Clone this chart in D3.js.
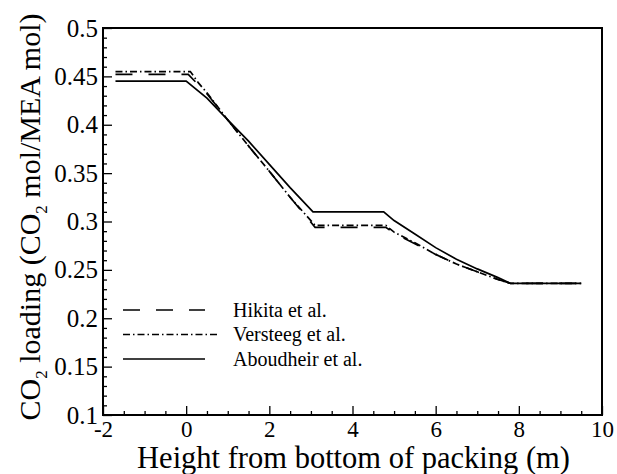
<!DOCTYPE html>
<html>
<head>
<meta charset="utf-8">
<script src="https://cdn.jsdelivr.net/npm/d3@7"></script>
</head>
<body style="margin:0; background:#fff">
<div id="chart"></div>
<script>
// Data
const hikitaX = [-1.7, 0.05, 0.3, 0.5, 1.0, 1.5, 2.0, 2.5, 3.1, 4.8, 5.0, 5.5, 6.0, 6.5, 7.0, 7.5, 7.8, 9.5];
const hikitaY = [0.452, 0.452, 0.441, 0.432, 0.405, 0.378, 0.352, 0.325, 0.294, 0.294, 0.288, 0.277, 0.266, 0.256, 0.248, 0.240, 0.236, 0.236];

const versteegX = [-1.7, 0.1, 0.3, 0.5, 1.0, 1.5, 2.0, 2.5, 3.1, 4.8, 5.0, 5.5, 6.0, 6.5, 7.0, 7.5, 7.8, 9.5];
const versteegY = [0.455, 0.455, 0.443, 0.433, 0.405, 0.378, 0.352, 0.325, 0.296, 0.296, 0.289, 0.278, 0.266, 0.256, 0.248, 0.240, 0.236, 0.236];

const aboudheirX = [-1.7, 0.0, 0.5, 1.0, 1.5, 2.0, 2.5, 3.05, 4.75, 5.0, 5.5, 6.0, 6.5, 7.0, 7.5, 7.8, 9.5];
const aboudheirY = [0.445, 0.445, 0.4275, 0.405, 0.383, 0.359, 0.335, 0.310, 0.310, 0.301, 0.287, 0.273, 0.261, 0.251, 0.242, 0.236, 0.236];

const seriesNames = ["Hikita et al.", "Versteeg et al.", "Aboudheir et al."];
const xTicks = [-2, 0, 2, 4, 6, 8, 10];
const yTicks = [0.1, 0.15, 0.2, 0.25, 0.3, 0.35, 0.4, 0.45, 0.5];

const FONT = '"Liberation Serif"';

const width = 617;
const height = 474;
const margin = { top: 28, right: 15, bottom: 59, left: 103 };

const svg = d3
  .select("#chart")
  .append("svg")
  .attr("width", width)
  .attr("height", height);

const xScale = d3.scaleLinear().domain([-2, 10]).range([margin.left, width - margin.right]);
const yScale = d3.scaleLinear().domain([0.1, 0.5]).range([height - margin.bottom, margin.top]);

// minor ticks
const xMinor = d3.range(-2, 10.001, 0.5).filter((d) => !xTicks.includes(d));
const yMinor = d3.range(10, 50.001, 1).map((d) => d / 100).filter((d) => Math.round(d * 100) % 5 !== 0);

svg
  .append("g")
  .attr("transform", `translate(0, ${height - margin.bottom})`)
  .call(d3.axisBottom(xScale).tickValues(xMinor).tickSize(-4).tickFormat(""))
  .call((g) => g.select(".domain").remove())
  .selectAll("line")
  .attr("stroke-width", 1.3);

svg
  .append("g")
  .attr("transform", `translate(${margin.left}, 0)`)
  .call(d3.axisLeft(yScale).tickValues(yMinor).tickSize(-4).tickFormat(""))
  .call((g) => g.select(".domain").remove())
  .selectAll("line")
  .attr("stroke-width", 1.3);

const xAxis = svg
  .append("g")
  .attr("transform", `translate(0, ${height - margin.bottom})`)
  .call(d3.axisBottom(xScale).tickValues(xTicks).tickSize(-9).tickPadding(6).tickFormat((d) => String(d)));
xAxis.select(".domain").remove();
xAxis.selectAll("line").attr("stroke-width", 1.3);
xAxis.selectAll("text").attr("font-family", FONT).attr("font-size", 23);

const yAxis = svg
  .append("g")
  .attr("transform", `translate(${margin.left}, 0)`)
  .call(d3.axisLeft(yScale).tickValues(yTicks).tickSize(-9).tickPadding(5).tickFormat((d) => String(+d.toFixed(2))));
yAxis.select(".domain").remove();
yAxis.selectAll("line").attr("stroke-width", 1.3);
yAxis.selectAll("text").attr("font-family", FONT).attr("font-size", 25);

// frame
svg
  .append("rect")
  .attr("x", margin.left)
  .attr("y", margin.top)
  .attr("width", width - margin.left - margin.right)
  .attr("height", height - margin.top - margin.bottom)
  .attr("fill", "none")
  .attr("stroke", "#000")
  .attr("stroke-width", 2);

// lines
const line = d3
  .line()
  .x((d) => xScale(d[0]))
  .y((d) => yScale(d[1]));

const series = [
  { name: seriesNames[0], pts: d3.zip(hikitaX, hikitaY), dash: "17,16" },
  { name: seriesNames[1], pts: d3.zip(versteegX, versteegY), dash: "7,3,1.5,3" },
  { name: seriesNames[2], pts: d3.zip(aboudheirX, aboudheirY), dash: null },
];

series.forEach((s) => {
  svg
    .append("path")
    .datum(s.pts)
    .attr("d", line)
    .attr("fill", "none")
    .attr("stroke", "#000")
    .attr("stroke-width", 1.7)
    .attr("stroke-dasharray", s.dash);
});

// legend
const legend = svg.append("g").attr("transform", "translate(123, 310)");
series.forEach((s, i) => {
  legend
    .append("line")
    .attr("x1", 0)
    .attr("x2", i === 1 ? 94 : 82)
    .attr("y1", i * 24.5)
    .attr("y2", i * 24.5)
    .attr("stroke", "#000")
    .attr("stroke-width", 1.7)
    .attr("stroke-dasharray", s.dash);
  legend
    .append("text")
    .attr("x", 110)
    .attr("y", i * 24.5)
    .attr("dy", "0.33em")
    .attr("font-family", FONT)
    .attr("font-size", 20)
    .text(s.name);
});

// axis titles
svg
  .append("text")
  .attr("x", (margin.left + width - margin.right) / 2 + 1)
  .attr("y", 468)
  .attr("text-anchor", "middle")
  .attr("font-family", FONT)
  .attr("font-size", 30.5)
  .text("Height from bottom of packing (m)");

const yTitle = svg
  .append("text")
  .attr("transform", "translate(40, 217) rotate(-90)")
  .attr("text-anchor", "middle")
  .attr("font-family", FONT)
  .attr("font-size", 30);
yTitle.append("tspan").text("CO");
yTitle.append("tspan").attr("dy", 7).attr("font-size", 17).text("2");
yTitle.append("tspan").attr("dy", -7).text(" loading (CO");
yTitle.append("tspan").attr("dy", 7).attr("font-size", 17).text("2");
yTitle.append("tspan").attr("dy", -7).text(" mol/MEA mol)");
</script>
</body>
</html>
